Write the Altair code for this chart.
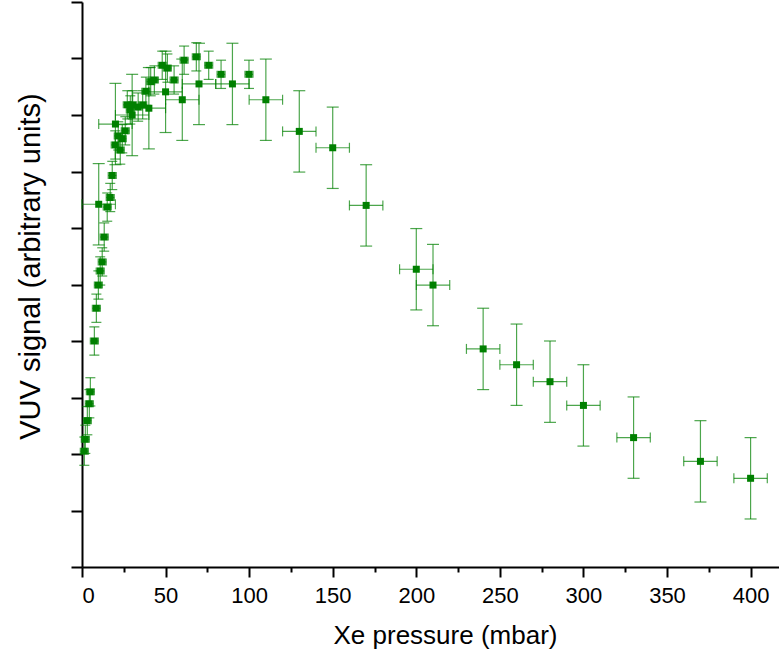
import altair as alt
import pandas as pd

# fine-step measurement (small error bars)
fine_x = [1.4, 2.0, 3.2, 4.4, 5.0, 7.4, 8.6, 9.8, 10.9, 12.1, 13.3, 15.1, 16.9, 18.1,
          19.9, 21.7, 22.9, 24.1, 25.9, 27.1, 28.9, 30.3, 33.6, 36.3, 38.2, 41.1, 43.3,
          48.0, 51.1, 55.1, 61.1, 68.4, 75.8, 83.2, 99.9]
fine_y = [2.05, 2.26, 2.59, 2.89, 3.10, 4.00, 4.58, 4.99, 5.24, 5.40, 5.84, 6.37, 6.54, 6.93,
          7.47, 7.63, 7.38, 7.58, 7.72, 8.18, 8.09, 8.18, 8.14, 8.18, 8.42, 8.59, 8.62,
          8.88, 8.83, 8.62, 8.97, 9.03, 8.88, 8.72, 8.72]
fine_yerr = [0.25] * len(fine_x)
fine_xerr = [2.4] * len(fine_x)

# coarse-step measurement (large error bars)
coarse_x = [10, 20, 30, 40, 50, 60, 70, 90, 110, 130, 150, 170, 200, 210, 240, 260, 280,
            300, 330, 370, 400]
coarse_y = [6.42, 7.84, 8.00, 8.12, 8.41, 8.27, 8.55, 8.55, 8.27, 7.71, 7.42, 6.40, 5.27,
            4.99, 3.86, 3.58, 3.28, 2.86, 2.29, 1.87, 1.57]
coarse_yerr = [0.72] * len(coarse_x)
coarse_xerr = [10] * len(coarse_x)

x_ticks = list(range(0, 401, 25))
y_ticks = [i * 0.5 for i in range(0, 21)]


def frame(xs, ys, yerr, xerr, name):
    return pd.DataFrame({
        "x": xs, "y": ys,
        "ylo": [y - e for y, e in zip(ys, yerr)],
        "yhi": [y + e for y, e in zip(ys, yerr)],
        "xlo": [x - e for x, e in zip(xs, xerr)],
        "xhi": [x + e for x, e in zip(xs, xerr)],
        "set": name,
    })


fine = frame(fine_x, fine_y, fine_yerr, fine_xerr, "fine")
coarse = frame(coarse_x, coarse_y, coarse_yerr, coarse_xerr, "coarse")
df = pd.concat([fine, coarse], ignore_index=True)

GREEN = "#008000"
xs = alt.Scale(domain=[0, 417], nice=False, zero=False)
ys = alt.Scale(domain=[0, 10], nice=False, zero=False)

x_axis = alt.Axis(
    values=x_ticks,
    labelExpr="datum.value % 50 === 0 ? datum.label : ''",
    tickSize={"condition": {"test": "datum.value % 50 === 0", "value": 10}, "value": 5},
    title="Xe pressure (mbar)",
    titleX=363,
    grid=False,
)
y_axis = alt.Axis(
    values=y_ticks,
    labels=False,
    tickSize={"condition": {"test": "datum.value % 1 === 0", "value": 11}, "value": 6},
    title="VUV signal (arbitrary units)",
    titleY=264,
    grid=False,
)

base = alt.Chart(df)
X = alt.X("x:Q", scale=xs, axis=x_axis)
Y = alt.Y("y:Q", scale=ys, axis=y_axis)

err_style = dict(color=GREEN, opacity=0.7, strokeWidth=1.2)

vbar = base.mark_rule(**err_style).encode(
    x=alt.X("x:Q", scale=xs), y=alt.Y("ylo:Q", scale=ys), y2="yhi:Q")
hbar = base.mark_rule(**err_style).encode(
    y=alt.Y("y:Q", scale=ys), x=alt.X("xlo:Q", scale=xs), x2="xhi:Q")

layers = [vbar, hbar]
for name, capw, caph in [("fine", 10, 7), ("coarse", 12, 10)]:
    sub = alt.Chart(df[df["set"] == name])
    for col in ["ylo", "yhi"]:
        layers.append(sub.mark_tick(orient="horizontal", size=capw, thickness=1.2,
                                    color=GREEN, opacity=0.7).encode(
            x=alt.X("x:Q", scale=xs), y=alt.Y(f"{col}:Q", scale=ys)))
    for col in ["xlo", "xhi"]:
        layers.append(sub.mark_tick(orient="vertical", size=caph, thickness=1.2,
                                    color=GREEN, opacity=0.7).encode(
            x=alt.X(f"{col}:Q", scale=xs), y=alt.Y("y:Q", scale=ys)))

points = base.mark_square(size=49, color=GREEN, opacity=1, filled=True).encode(x=X, y=Y)
layers.append(points)

chart = alt.layer(*layers).properties(
    width=697, height=565,
    autosize=alt.AutoSizeParams(type="none"),
    padding={"left": 82, "top": 2, "right": 0, "bottom": 94},
    background="white",
).configure_view(stroke=None).configure_axis(
    domainColor="black", domainWidth=2, tickColor="black", tickWidth=2,
    labelFont="Liberation Sans", labelFontSize=22, labelColor="black",
    labelPadding=8,
    titleFont="Liberation Sans", titleFontSize=26, titleFontWeight="normal",
    titleColor="black",
).configure_axisX(titlePadding=16).configure_axisY(titlePadding=25, titleFontSize=29)

chart.save("out.html", embed_options={"renderer": "svg", "actions": False})
